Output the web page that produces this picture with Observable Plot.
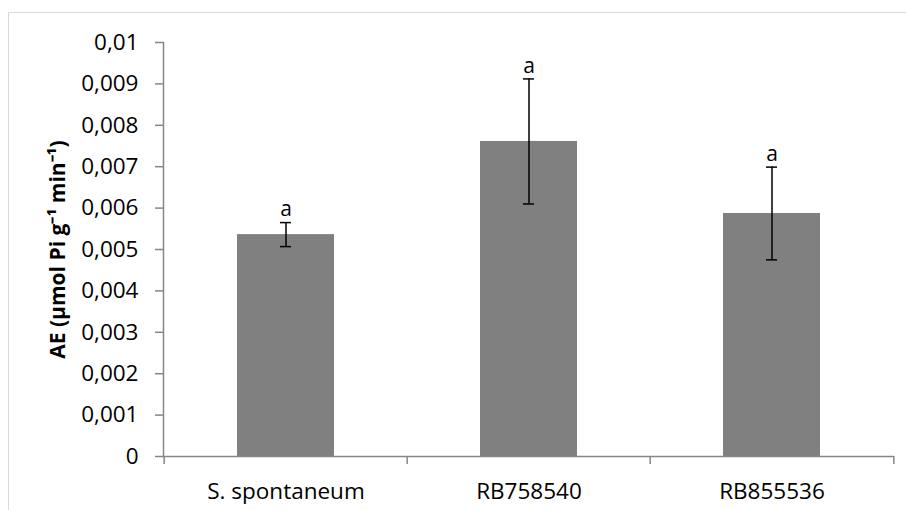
<!DOCTYPE html>
<html><head><meta charset="utf-8">
<script src="https://cdn.jsdelivr.net/npm/d3@7"></script>
<script src="https://cdn.jsdelivr.net/npm/@observablehq/plot@0.6"></script>
<style>
body{margin:0;background:#fff;}
#wrap{position:relative;width:906px;height:510px;overflow:hidden;}
#border{position:absolute;left:8px;top:12px;right:-2px;bottom:-2px;border-left:1px solid #d9d9d9;border-top:1px solid #d9d9d9;}
#chart{position:absolute;left:0;top:0;}
</style></head><body>
<div id="wrap"><div id="border"></div><div id="chart"></div></div>
<script>
const categories = ["S. spontaneum", "RB758540", "RB855536"];
const means = [0.00536, 0.00761, 0.00587];
const errors = [0.00029, 0.00151, 0.00112];
const letters = ["a", "a", "a"];
const yTicks = [0, 0.001, 0.002, 0.003, 0.004, 0.005, 0.006, 0.007, 0.008, 0.009, 0.01];
const yTickLabels = ["0", "0,001", "0,002", "0,003", "0,004", "0,005", "0,006", "0,007", "0,008", "0,009", "0,01"];
const yTitle = "AE (µmol Pi g⁻¹ min⁻¹)";

const data = categories.map((c, i) => ({cat: c, mean: means[i], lo: means[i] - errors[i], hi: means[i] + errors[i], letter: letters[i]}));

const W = 906, H = 510, mL = 163, mR = 12, mT = 42, mB = 54;
const step = (W - mL - mR) / categories.length;
const yMax = 0.01;
const tickLen = 8 / (H - mT - mB) * yMax;
const font = "'Open Sans', sans-serif";
const axisGray = "#868686";

const chart = Plot.plot({
  width: W, height: H,
  marginLeft: mL, marginRight: mR, marginTop: mT, marginBottom: mB,
  style: {fontFamily: font, background: "transparent", overflow: "visible"},
  x: {domain: categories, paddingInner: 0.6, paddingOuter: 0.3},
  y: {domain: [0, yMax]},
  marks: [
    Plot.barY(data, {x: "cat", y: "mean", fill: "#808080"}),
    Plot.frame({anchor: "left", stroke: axisGray, strokeWidth: 1.5}),
    Plot.ruleY([0], {stroke: axisGray, strokeWidth: 1.5}),
    Plot.ruleX(categories, {x: d => d, y1: 0, y2: -tickLen, dx: -step / 2, stroke: axisGray, strokeWidth: 1.5}),
    Plot.ruleX(categories.slice(-1), {x: d => d, y1: 0, y2: -tickLen, dx: step / 2, stroke: axisGray, strokeWidth: 1.5}),
    Plot.axisY({ticks: yTicks, tickFormat: d => yTickLabels[yTicks.indexOf(d)], tickSize: 8, tickPadding: 17, fontSize: 22.5, stroke: axisGray, strokeWidth: 1.5, fill: "#000", label: null}),
    Plot.axisX({tickSize: 0, tickPadding: 27, fontSize: 22.5, fill: "#000", label: null}),
    Plot.ruleX(data, {x: "cat", y1: "lo", y2: "hi", stroke: "#000", strokeWidth: 1.5}),
    Plot.tickY(data, {x: "cat", y: "lo", stroke: "#000", strokeWidth: 1.5, insetLeft: 43, insetRight: 43}),
    Plot.tickY(data, {x: "cat", y: "hi", stroke: "#000", strokeWidth: 1.5, insetLeft: 43, insetRight: 43}),
    Plot.text(data, {x: "cat", y: "hi", text: "letter", dy: -13, fontSize: 21, fill: "#000"}),
    Plot.text([yTitle], {frameAnchor: "left", textAnchor: "middle", text: d => d, rotate: -90, dx: -105, fontSize: 21, fontWeight: "bold", fill: "#000"})
  ]
});
document.getElementById("chart").append(chart);
</script>
</body></html>
